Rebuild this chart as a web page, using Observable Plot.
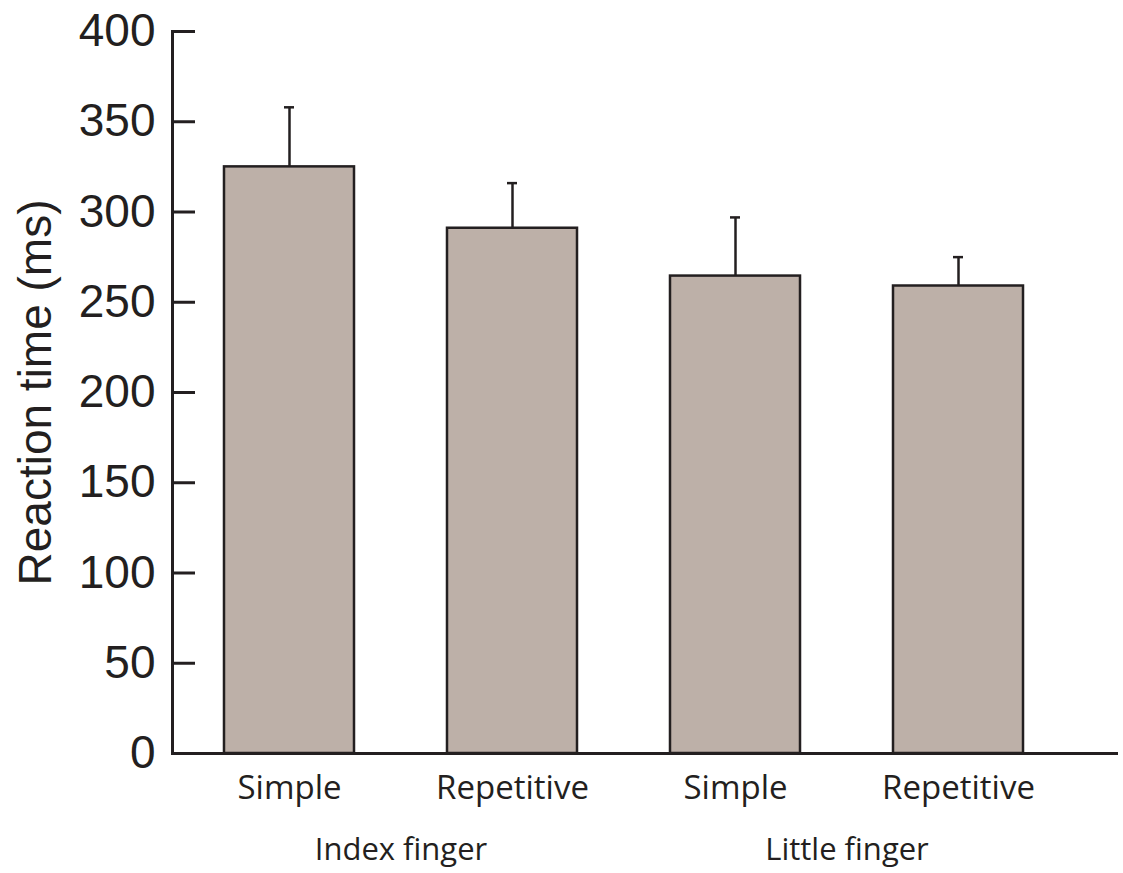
<!DOCTYPE html>
<html>
<head>
<meta charset="utf-8">
<script src="https://cdn.jsdelivr.net/npm/d3@7"></script>
<script src="https://cdn.jsdelivr.net/npm/@observablehq/plot@0.6"></script>
<style>
  html, body { margin: 0; padding: 0; background: #fff; }
  #chart { width: 1123px; height: 873px; }
</style>
</head>
<body>
<div id="chart"></div>
<script>
// Data
const fingers = ["Index finger", "Index finger", "Little finger", "Little finger"];
const conditions = ["Simple", "Repetitive", "Simple", "Repetitive"];
const means = [325, 291, 264.5, 259];
const errors = [33, 25, 32.5, 16];
const yTicks = [0, 50, 100, 150, 200, 250, 300, 350, 400];
const groups = ["Index finger", "Little finger"];

const keys = conditions.map((c, i) => fingers[i] + "|" + c);
const data = keys.map((k, i) => ({key: k, finger: fingers[i], condition: conditions[i], mean: means[i], upper: means[i] + errors[i]}));

const ink = "#231f20";
const barFill = "#bdb0a8";
const xScaleOpts = {type: "band", domain: keys, range: [131, 1116], padding: 0.417, round: false};
const xs = Plot.scale({x: xScaleOpts});
const groupData = groups.map(g => ({g, first: keys[fingers.indexOf(g)]}));

const chart = Plot.plot({
  width: 1123,
  height: 873,
  marginLeft: 172,
  marginRight: 5,
  marginTop: 31,
  marginBottom: 120,
  style: {fontFamily: "'Open Sans', sans-serif", color: ink, background: "#fff"},
  x: {...xScaleOpts, axis: null},
  y: {domain: [0, 400], axis: null},
  marks: [
    Plot.barY(data, {x: "key", y: "mean", fill: barFill, stroke: ink, strokeWidth: 2.5}),
    Plot.ruleX(data, {x: "key", y1: "mean", y2: "upper", stroke: ink, strokeWidth: 2.5}),
    Plot.tickY(data, {x: "key", y: "upper", stroke: ink, strokeWidth: 2.5, insetLeft: 60, insetRight: 60}),
    Plot.ruleY([0], {stroke: ink, strokeWidth: 3}),
    Plot.frame({anchor: "left", stroke: ink, strokeWidth: 3}),
    // inward ticks
    Plot.axisY({ticks: yTicks, tickSize: 23, dx: 23, text: null, label: null, stroke: ink, strokeWidth: 3}),
    // tick labels
    Plot.axisY({ticks: yTicks, tickSize: 0, tickPadding: 17, label: null, fontSize: 46,
      fontFamily: "'Liberation Sans', Arial, sans-serif", fill: ink}),
    Plot.text(["Reaction time (ms)"], {frameAnchor: "left", rotate: -90, textAnchor: "middle", lineAnchor: "bottom", dx: -122,
      fontSize: 46, fontFamily: "'Liberation Sans', Arial, sans-serif", fill: ink}),
    // category labels
    Plot.axisX({tickSize: 0, tickPadding: 22, fontSize: 33, label: null,
      tickFormat: k => k.split("|")[1], fill: ink}),
    // group labels
    Plot.text(groupData, {x: "first", text: "g", frameAnchor: "bottom", lineAnchor: "bottom",
      dx: xs.step / 2, dy: 106, fontSize: 31, fill: ink})
  ]
});
document.getElementById("chart").appendChild(chart);
</script>
</body>
</html>
